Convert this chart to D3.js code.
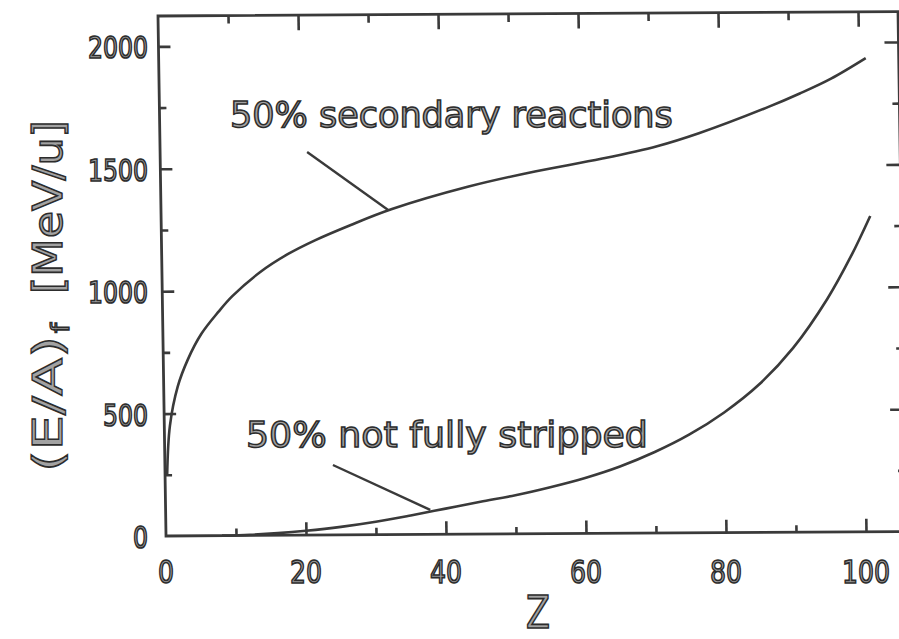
<!DOCTYPE html>
<html>
<head>
<meta charset="utf-8">
<script src="https://cdn.jsdelivr.net/npm/d3@7/dist/d3.min.js"></script>
<style>
  html, body { margin: 0; padding: 0; background: #fff; }
  svg { display: block; }
  .lbl { font-family: "DejaVu Sans", sans-serif; fill: #a2a2a2; stroke: #2c2c2c; stroke-width: 1.5px; vector-effect: non-scaling-stroke; }
</style>
</head>
<body>
<svg id="chart" width="899" height="639"></svg>
<script>
// Energy per nucleon at which 50% of fragments undergo secondary reactions
const upperZ = [0.3, 0.8, 2, 3.5, 5.5, 8, 10, 14, 18, 22, 27, 33, 44, 53.5, 63, 71, 77, 87, 91.5, 96, 101];
const upperE = [250, 450, 610, 720, 825, 915, 978, 1075, 1148, 1205, 1265, 1330, 1420, 1480, 1530, 1580, 1632, 1738, 1792, 1852, 1935];

// Energy per nucleon at which 50% of ions are not fully stripped
const lowerZ = [8, 12, 16, 20, 25, 30, 35, 40, 45, 50, 55, 60, 65, 70, 75, 80, 85, 90, 95, 98.5, 101.3];
const lowerE = [0, 3, 9, 18, 33, 53, 78, 105, 132, 158, 190, 227, 273, 331, 402, 491, 603, 753, 953, 1128, 1290];

// Axis tick values and labels
const xTickLabels = [0, 20, 40, 60, 80, 100];
const xMinorTicks = [10, 30, 50, 70, 90];
const xMajorTicks = [20, 40, 60, 80, 100];
const yTickLabels = [0, 500, 1000, 1500, 2000];
const yMinorTicks = [250, 750, 1250, 1750];
const yMajorTicks = [500, 1000, 1500, 2000];

const svg = d3.select("#chart");

const x = d3.scaleLinear().domain([0, 100]).range([166, 866]);
const y = d3.scaleLinear().domain([0, 2000]).range([536, 46.4]);

const xMax = x.invert(906);
const yMax = y.invert(16);

// The plotted frame is slightly sheared
const plot = svg.append("g").attr("transform", "matrix(1,-0.006,0.0154,1,-8.25,0.996)");

const ink = "#3a3a3a";

plot.append("rect")
  .attr("x", x(0)).attr("y", y(yMax))
  .attr("width", x(xMax) - x(0)).attr("height", y(0) - y(yMax))
  .attr("fill", "none").attr("stroke", ink).attr("stroke-width", 2.8);

function tickAxis(axisFn, scale, values, size, transform) {
  const g = plot.append("g").attr("transform", transform)
    .call(axisFn(scale).tickValues(values).tickSize(size).tickFormat(""));
  g.select(".domain").remove();
  g.selectAll(".tick line").attr("stroke", ink).attr("stroke-width", 2.6);
}

// bottom (ticks point up, into the frame)
tickAxis(d3.axisBottom, x, xMinorTicks, -7, `translate(0,${y(0)})`);
tickAxis(d3.axisBottom, x, xMajorTicks, -13, `translate(0,${y(0)})`);
// top (ticks point down)
tickAxis(d3.axisTop, x, xMinorTicks, -8, `translate(0,${y(yMax)})`);
tickAxis(d3.axisTop, x, xMajorTicks, -15, `translate(0,${y(yMax)})`);
// left
tickAxis(d3.axisLeft, y, yMinorTicks, -7, `translate(${x(0)},0)`);
tickAxis(d3.axisLeft, y, yMajorTicks, -12, `translate(${x(0)},0)`);
// right
tickAxis(d3.axisRight, y, yMinorTicks, -7, `translate(${x(xMax)},0)`);
tickAxis(d3.axisRight, y, yMajorTicks, -14, `translate(${x(xMax)},0)`);

const line = d3.line().x(d => x(d[0])).y(d => y(d[1])).curve(d3.curveCatmullRom.alpha(0.5));

plot.append("path")
  .datum(upperZ.map((z, i) => [z, upperE[i]]))
  .attr("d", line).attr("fill", "none").attr("stroke", ink).attr("stroke-width", 2.6);

plot.append("path")
  .datum(lowerZ.map((z, i) => [z, lowerE[i]]))
  .attr("d", line).attr("fill", "none").attr("stroke", ink).attr("stroke-width", 2.6);

// Leader lines from the annotations to the curves
const leaders = [
  [[21, 1565], [32.5, 1325]],
  [[24, 286], [37.8, 100]]
];
leaders.forEach(seg => {
  plot.append("line")
    .attr("x1", x(seg[0][0])).attr("y1", y(seg[0][1]))
    .attr("x2", x(seg[1][0])).attr("y2", y(seg[1][1]))
    .attr("stroke", ink).attr("stroke-width", 2.4);
});

// Text squeezed horizontally to a given width (the lettering is condensed)
function fitted(parent, str, size, width, x0, y0, anchor) {
  const g = parent.append("g");
  const t = g.append("text").attr("class", "lbl").attr("font-size", size).text(str);
  const w = t.node().getComputedTextLength();
  const s = width / w;
  const dx = anchor === "middle" ? -width / 2 : anchor === "end" ? -width : 0;
  g.attr("transform", `translate(${x0 + dx},${y0}) scale(${s},1)`);
  return g;
}

// Tick labels
xTickLabels.forEach(v => fitted(svg, String(v), 32, String(v).length * 16, x(v), 583, "middle"));
yTickLabels.forEach(v => fitted(svg, String(v), 30, String(v).length * 15, 148, y(v) + 12, "end"));

// Annotations
fitted(svg, "50% secondary reactions", 35, 443, 230, 127, "start");
fitted(svg, "50% not fully stripped", 35, 402, 246, 447, "start");

// Axis titles
fitted(svg, "Z", 44, 24, 538, 628, "middle");

const yTitle = svg.append("g").attr("transform", "translate(62,0) rotate(-90)");
fitted(yTitle, "(E/A)", 40, 136, -472, 0, "start");
fitted(yTitle, "f", 24, 10, -333, 7, "start");
fitted(yTitle, "[MeV/u]", 40, 174, -294, 0, "start");
</script>
</body>
</html>
